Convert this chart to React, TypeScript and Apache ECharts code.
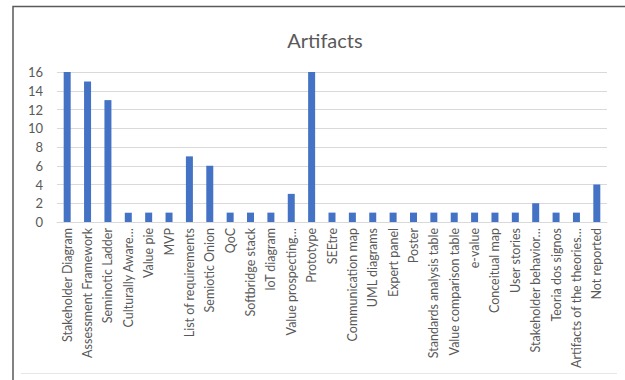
import React, { useEffect, useRef } from "react";
import * as echarts from "echarts";

const categories: string[] = [
  "Stakeholder Diagram",
  "Assessment Framework",
  "Seminotic Ladder",
  "Culturally Aware…",
  "Value pie",
  "MVP",
  "List of requirements",
  "Semiotic Onion",
  "QoC",
  "Softbridge stack",
  "IoT diagram",
  "Value prospecting…",
  "Prototype",
  "SEEtre",
  "Communication map",
  "UML diagrams",
  "Expert panel",
  "Poster",
  "Standards analysis table",
  "Value comparison table",
  "e-value",
  "Conceitual map",
  "User stories",
  "Stakeholder behavior…",
  "Teoria dos signos",
  "Artifacts of the theories…",
  "Not reported",
];

const counts: number[] = [
  16, 15, 13, 1, 1, 1, 7, 6, 1, 1, 1, 3, 16, 1, 1, 1, 1, 1, 1, 1, 1, 1, 1, 2, 1, 1, 4,
];

const yTicks = { min: 0, max: 16, interval: 2 };

const FONT = "Lato, 'Open Sans', sans-serif";
const TEXT = "#595959";

export default function App() {
  const ref = useRef<HTMLDivElement>(null);

  useEffect(() => {
    if (!ref.current) return;
    const chart = echarts.init(ref.current, undefined, { renderer: "svg" });
    chart.setOption({
      animation: false,
      backgroundColor: "#ffffff",
      title: {
        text: "Artifacts",
        left: 320,
        textAlign: "center",
        top: 25,
        textStyle: {
          fontFamily: FONT,
          fontSize: 20,
          fontWeight: "normal",
          color: TEXT,
        },
      },
      graphic: [
        {
          type: "polyline",
          shape: { points: [[13, 400], [13, 6.5], [640, 6.5]] },
          style: { stroke: "#5a5a5a", lineWidth: 1.5, fill: "none" },
          silent: true,
        },
        {
          type: "line",
          shape: { x1: 21, y1: 373.5, x2: 617, y2: 373.5 },
          style: { stroke: "#e6e6e6", lineWidth: 1 },
          silent: true,
        },
      ],
      grid: { left: 57, right: 18, top: 72, bottom: 158, containLabel: false },
      xAxis: {
        type: "category",
        data: categories,
        boundaryGap: true,
        axisLine: { lineStyle: { color: "#d9d9d9", width: 1 } },
        axisTick: { show: false },
        axisLabel: {
          rotate: 90,
          interval: 0,
          margin: 6,
          fontFamily: FONT,
          fontSize: 12.5,
          color: TEXT,
        },
      },
      yAxis: {
        type: "value",
        min: yTicks.min,
        max: yTicks.max,
        interval: yTicks.interval,
        axisLine: { show: false },
        axisTick: { show: false },
        splitLine: { lineStyle: { color: "#d9d9d9", width: 1 } },
        axisLabel: {
          margin: 14,
          fontFamily: FONT,
          fontSize: 13,
          color: TEXT,
        },
      },
      series: [
        {
          type: "bar",
          data: counts,
          barWidth: 7,
          itemStyle: { color: "#4472c4" },
        },
      ],
    });
    return () => chart.dispose();
  }, []);

  return (
    <div
      ref={ref}
      style={{ position: "fixed", left: 0, top: 0, width: 625, height: 380 }}
    />
  );
}
